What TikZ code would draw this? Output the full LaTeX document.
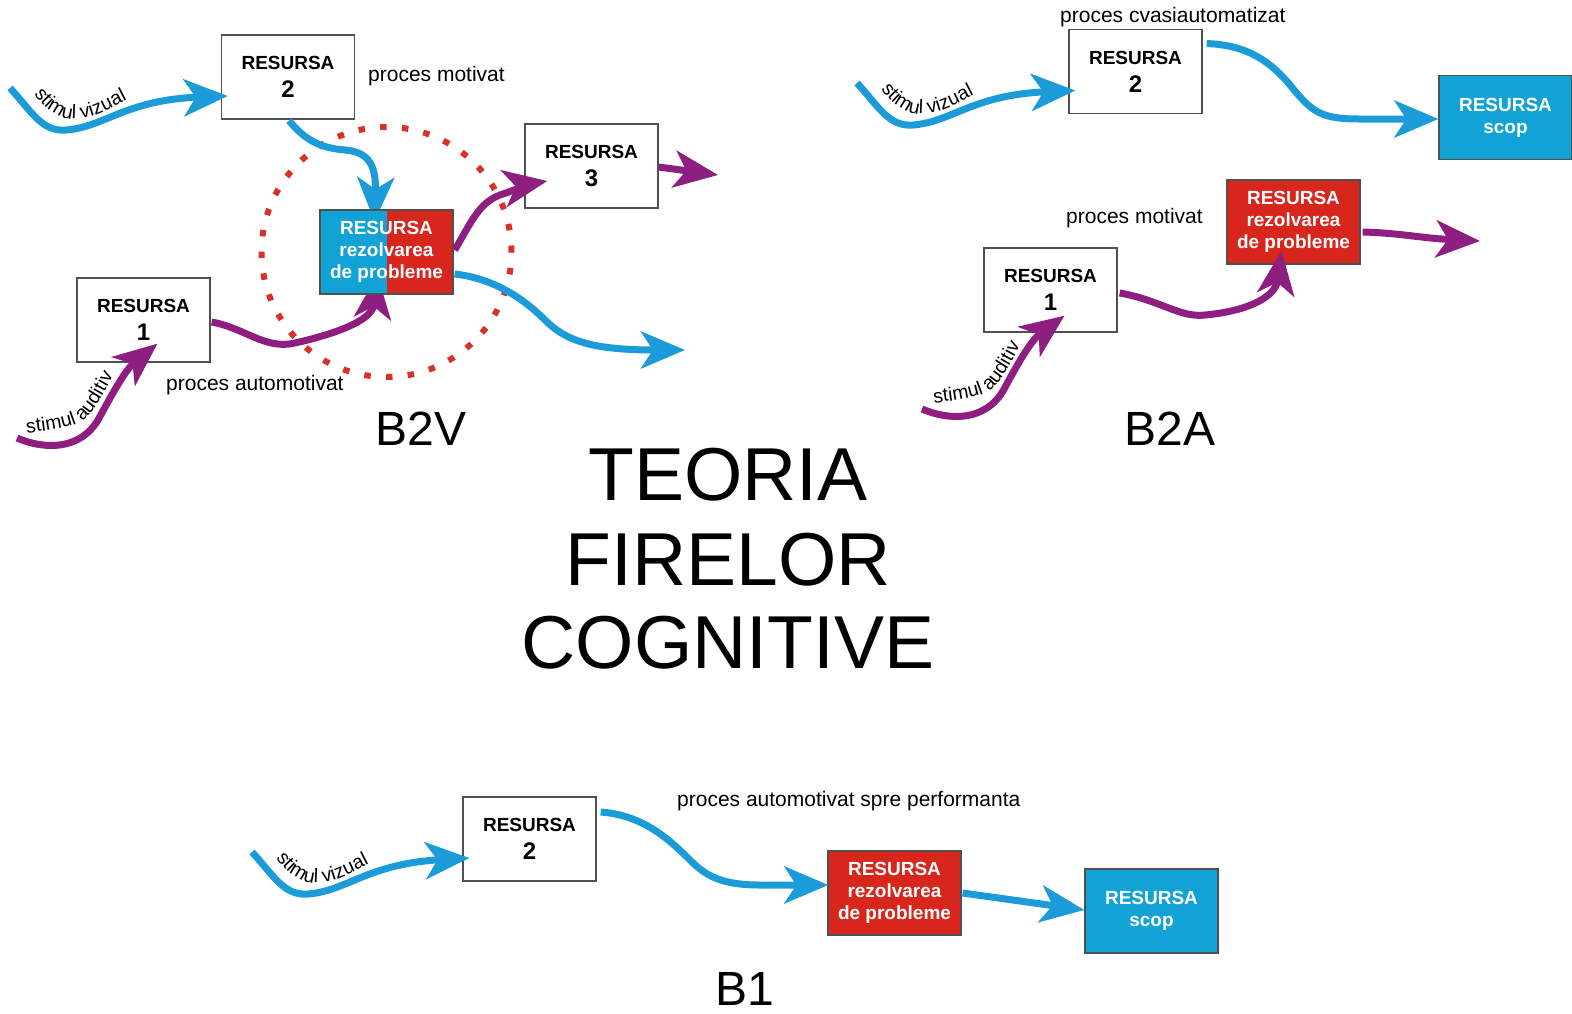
\documentclass[tikz,border=0pt]{standalone}
\usepackage{fontspec}
\setmainfont{Liberation Sans}
\usetikzlibrary{arrows.meta,calc,decorations.text}
\definecolor{arrblue}{HTML}{1B9BD7}
\definecolor{arrpurp}{HTML}{8E1F80}
\definecolor{boxred}{HTML}{D9261C}
\definecolor{boxblue}{HTML}{12A3D6}
\definecolor{dotred}{HTML}{D7312A}
\definecolor{boxline}{HTML}{505050}
\newcommand\numf{\fontsize{24}{28}\selectfont}
\newcommand\stimfont{\fontsize{19.5}{20}\selectfont}
\pgfdeclarelayer{fore}
\pgfsetlayers{main,fore}
\begin{document}
\begin{tikzpicture}[x=1pt,y=-1pt,
  wbox/.style={draw=boxline, line width=1.3pt, fill=white, minimum width=133pt, minimum height=84pt, inner sep=0pt, align=center, font=\fontsize{19}{28}\selectfont\bfseries, text=black},
  cbox/.style={wbox, text=white, font=\fontsize{19}{22}\selectfont\bfseries},
  rbox/.style={cbox, fill=boxred},
  bbox/.style={cbox, fill=boxblue},
  lab/.style={anchor=base west, inner sep=0pt, font=\fontsize{21}{24}\selectfont},
  bigl/.style={anchor=base, inner sep=0pt, font=\fontsize{48}{50}\selectfont},
  ttl/.style={anchor=base, inner sep=0pt, font=\fontsize{75}{80}\selectfont},
  barr/.style={draw=arrblue, line width=7pt, -{Stealth[length=44pt,width=37pt,inset=12pt]}},
  parr/.style={barr, draw=arrpurp},
  stimv/.style={decorate,decoration={text along path,text={stimul vizual},text align={left indent=0pt}}},
  stima/.style={decorate,decoration={text along path,text={stimul auditiv},text align={left indent=0pt}}}
]
\stimfont
\useasboundingbox (0,0) rectangle (1572,1013);

% ---------------- B2V ----------------
\node[wbox] (b2vR2) at (288,77) {RESURSA\\{\numf 2}};
\node[wbox] (b2vR3) at (591.5,166) {RESURSA\\{\numf 3}};
\node[wbox] (b2vR1) at (143.5,320) {RESURSA\\{\numf 1}};
\begin{pgfonlayer}{fore}
\node[cbox, path picture={
   \fill[boxblue] (path picture bounding box.south west) rectangle (path picture bounding box.north);
   \fill[boxred] (path picture bounding box.south) rectangle (path picture bounding box.north east);}]
   (b2vC) at (386.5,252) {RESURSA\\rezolvarea\\de probleme};
\end{pgfonlayer}
\coordinate (b2vo3) at (718,175);
\coordinate (b2vo2) at (685,350);
\coordinate (b2vsv) at (10,88);
\coordinate (b2vsa) at (17,438);
\coordinate (b2vtv) at (34,94);
\coordinate (b2vta) at (27,433);

\draw[dotred, line width=6pt, dash pattern=on 6.5pt off 15.3pt] (b2vC.center) circle[radius=125pt];

\node[lab] (lab1) at (368,81) {proces motivat};
\node[lab] (lab2) at (166,390) {proces automotivat};
\node[bigl] (b2v) at (421,445) {B2V};

\draw[barr] (b2vsv) .. controls (32,112) and (42,132) .. (66,130) .. controls (105,127) and (125,100) .. ($(b2vR2.west)+(7,19)$);
\path[stimv] (b2vtv) .. controls (46,109) and (56,119) .. (76,119) .. controls (102,118) and (122,99) .. (160,86);
\draw[parr] (b2vsa) .. controls (45,450) and (80,450) .. (98,420) .. controls (110,398) and (125,370) .. ($(b2vR1.south)+(14,-19)$);
\path[stima] (b2vta) .. controls (50,430) and (72,428) .. (84,420) .. controls (95,410) and (105,392) .. (124,355);
\draw[barr] ($(b2vR2.south)+(1,1)$) .. controls (305,140) and (320,148) .. (345,150) .. controls (372,152) and (376,170) .. ($(b2vC.north)+(-12,12)$);
\draw[parr] ($(b2vR1.east)+(1,2)$) .. controls (245,328) and (265,350) .. (295,343) .. controls (330,335) and (372,322) .. ($(b2vC.south)+(-9,-20)$);
\draw[parr] ($(b2vC.east)+(1,-2)$) .. controls (470,225) and (478,203) .. (500,195) .. controls (515,190) and (530,184) .. ($(b2vR3.west)+(23,15)$);
\draw[parr] ($(b2vR3.east)+(0,1)$) -- (b2vo3);
\draw[barr] ($(b2vC.east)+(1,22)$) .. controls (490,278) and (520,295) .. (545,320) .. controls (565,340) and (590,350) .. (b2vo2);

% ---------------- B2A ----------------
\node[wbox] (b2aR2) at (1135.5,71.5) {RESURSA\\{\numf 2}};
\node[bbox] (scopA) at (1505.5,117.5) {RESURSA\\scop};
\node[rbox] (redA) at (1293.5,222) {RESURSA\\rezolvarea\\de probleme};
\node[wbox] (b2aR1) at (1050.5,290) {RESURSA\\{\numf 1}};
\coordinate (b2asv) at (857,83);
\coordinate (b2asa) at (922,409);
\coordinate (b2ao) at (1480,241);
\coordinate (b2atv) at (881,89);
\coordinate (b2ata) at (934,403);

\node[lab] (lab3) at (1060,22) {proces cvasiautomatizat};
\node[lab] (lab4) at (1066,223) {proces motivat};
\node[bigl] (b2a) at (1170,445) {B2A};

\draw[barr] (b2asv) .. controls (879,107) and (889,127) .. (913,125) .. controls (952,122) and (972,95) .. ($(b2aR2.west)+(7,19)$);
\path[stimv] (b2atv) .. controls (893,104) and (903,114) .. (923,114) .. controls (949,113) and (969,94) .. (1007,81);
\draw[barr] ($(b2aR2.east)+(4,-28)$) .. controls (1240,45) and (1265,55) .. (1290,85) .. controls (1312,112) and (1320,119) .. (1360,119) -- ($(scopA.west)+(0,1.5)$);
\draw[parr] (b2asa) .. controls (950,421) and (985,421) .. (1003,391) .. controls (1015,369) and (1030,341) .. ($(b2aR1.south)+(14,-17)$);
\path[stima] (b2ata) .. controls (957,400) and (979,398) .. (991,390) .. controls (1002,380) and (1012,362) .. (1031,325);
\draw[parr] ($(b2aR1.east)+(2,3)$) .. controls (1160,300) and (1180,318) .. (1205,315) .. controls (1240,312) and (1275,300) .. ($(redA.south)+(-12,-14)$);
\draw[parr] ($(redA.east)+(2,10)$) .. controls (1400,233) and (1420,238) .. (b2ao);

% ---------------- B1 ----------------
\node[wbox] (b1R2) at (529.5,839) {RESURSA\\{\numf 2}};
\node[rbox] (redB) at (894.5,893) {RESURSA\\rezolvarea\\de probleme};
\node[bbox] (scopB) at (1151.5,911) {RESURSA\\scop};
\coordinate (b1sv) at (252,852);
\coordinate (b1tv) at (276,858);

\node[lab] (lab5) at (677,806) {proces automotivat spre performanta};
\node[bigl] (b1) at (745,1005) {B1};

\draw[barr] (b1sv) .. controls (274,876) and (284,896) .. (308,894) .. controls (347,891) and (367,864) .. ($(b1R2.west)+(7,19)$);
\path[stimv] (b1tv) .. controls (288,873) and (298,883) .. (318,883) .. controls (344,882) and (364,863) .. (402,850);
\draw[barr] ($(b1R2.east)+(4,-27)$) .. controls (640,815) and (665,835) .. (690,860) .. controls (705,875) and (720,885) .. (760,885) -- ($(redB.west)+(1,-8)$);
\draw[barr] ($(redB.east)+(1,0)$) -- ($(scopB.west)+(0,-1)$);

% ---------------- title ----------------
\node[ttl] (t1) at (728,500) {TEORIA};
\node[ttl] (t2) at (728,585) {FIRELOR};
\node[ttl] (t3) at (728,668) {COGNITIVE};
\end{tikzpicture}
\end{document}
